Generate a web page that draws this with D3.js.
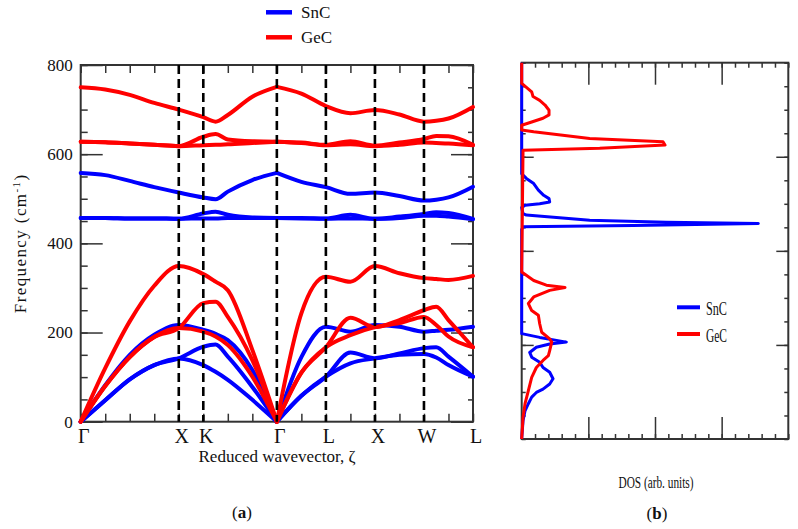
<!DOCTYPE html>
<html><head><meta charset="utf-8">
<script src="https://cdn.jsdelivr.net/npm/d3@7"></script>
<style>
body{margin:0;background:#fff}
svg{display:block;background:#fff}
text{font-family:"Liberation Serif","DejaVu Serif",serif;fill:#111}
</style>
</head><body>
<svg id="c" width="798" height="529"></svg>
<script>
// ---------- Data ----------
const kLabels = ["Γ","X","K","Γ","L","X","W","L"];
const kPos    = [0, 0.25, 0.3125, 0.5, 0.625, 0.75, 0.875, 1];
const xTickPos = [0,0.0625,0.125,0.1875,0.25,0.3125,0.375,0.4375,0.5,0.5625,0.625,0.6875,0.75,0.8125,0.875,0.9375,1];
// sample positions along the k-path (reduced units)
const q = [0,0.0625,0.125,0.1875,0.25,0.3125,0.34375,0.375,0.4375,0.5,0.5625,0.625,0.6875,0.75,0.8125,0.875,0.90625,0.9375,1];

// SnC phonon branches (cm^-1)
const snc1 = [0,48,95,127,142,127,112,94,49,0,58,101,131,142,150,152,144,127,101];
const snc2 = [0,48,95,127,142,168,173,146,78,0,58,101,155,142,153,165,167,146,101];
const snc3 = [0,82,150,195,217,206,197,183,116,0,145,213,202,217,213,202,204,206,213];
const snc4 = [457,457,456,456,455,456,456,457,457,457,456,455,456,455,457,462,462,460,454];
const snc5 = [457,457,456,456,455,467,471,464,458,457,457,456,464,455,460,466,470,468,455];
const snc6 = [558,553,540,526,514,503,499,516,542,558,538,526,511,514,506,496,498,503,527];

// GeC phonon branches (cm^-1)
const gec1 = [0,80,145,190,210,202,191,172,101,0,110,167,194,212,221,235,217,191,167];
const gec2 = [0,80,145,190,210,266,269,235,138,0,110,167,233,212,228,250,258,228,167];
const gec3 = [0,120,225,305,349,331,314,295,161,0,243,325,314,349,333,322,320,318,327];
const gec4 = [628,627,624,621,618,620,621,622,625,628,625,620,622,618,621,626,625,624,620];
const gec5 = [628,627,624,621,618,639,645,633,629,628,626,621,629,619,626,634,641,640,621];
const gec6 = [750,745,733,715,700,683,673,688,729,751,736,708,692,699,689,673,675,680,706];

// Density of states (frequency cm^-1, DOS arb. units)
const sncDosFreq = [800,674,564,554,543,529,518,511,504,500,497,492,479,476,465,461,458,454,451,445,224,216,206,202,195,184,174,163,152,142,128,117,106,99,89,75,60,39,0];
const sncDosVal  = [0,0,0,0.07,0.18,0.25,0.33,0.41,0.42,0.27,0.05,0,0.02,0.07,1.02,2.17,3.55,1.67,0.02,0,0,0.27,0.67,0.42,0.22,0.12,0.15,0.27,0.32,0.42,0.47,0.42,0.32,0.22,0.15,0.10,0.05,0.02,0];
const gecDosFreq = [800,756,738,728,720,710,699,689,682,674,667,657,653,639,632,625,618,614,355,337,327,322,316,302,288,273,263,245,227,213,206,188,177,167,152,131,103,75,46,0];
const gecDosVal  = [0,0,0.15,0.17,0.27,0.35,0.41,0.41,0.32,0.15,0,0,0.18,1.02,2.12,2.15,1.17,0.02,0,0.18,0.37,0.65,0.42,0.18,0.10,0.15,0.25,0.27,0.30,0.42,0.45,0.42,0.40,0.32,0.22,0.15,0.10,0.05,0.02,0];

const seriesNames = ["SnC","GeC"];
const seriesColors = ["#0000ff","#ff0000"];
const yTicksMajor = [0,200,400,600,800];

// ---------- Drawing ----------
const svg = d3.select("#c");
const A = {l:80.7, r:473, t:65, b:421.7};
const B = {l:521.7, r:788.3, t:62.7, b:439};

const xA = d3.scaleLinear().domain([0,1]).range([A.l, A.r]);
const yA = d3.scaleLinear().domain([0,800]).range([A.b, A.t]);
const xB = d3.scaleLinear().domain([0,4]).range([B.l, B.r]);
const yB = d3.scaleLinear().domain([0,800]).range([B.b, B.t]);

const axisColor = "#333";
function styleAxis(g){ g.select(".domain").remove(); g.selectAll("line").attr("stroke",axisColor).attr("stroke-width",1.5); }

// Panel a frame
svg.append("rect").attr("x",A.l).attr("y",A.t).attr("width",A.r-A.l).attr("height",A.b-A.t)
  .attr("fill","none").attr("stroke",axisColor).attr("stroke-width",2);

// y axes panel a
const yMinor = d3.range(0,801,50);
svg.append("g").attr("transform",`translate(${A.l},0)`)
  .call(d3.axisLeft(yA).tickValues(yMinor).tickSize(-7).tickFormat("")).call(styleAxis);
svg.append("g").attr("transform",`translate(${A.l},0)`)
  .call(d3.axisLeft(yA).tickValues(yTicksMajor).tickSize(-22).tickPadding(8).tickFormat(d3.format("d")))
  .call(styleAxis)
  .call(g=>g.selectAll("text").attr("font-size",17).attr("fill","#111"));
svg.append("g").attr("transform",`translate(${A.r},0)`)
  .call(d3.axisRight(yA).tickValues(yMinor).tickSize(-5).tickFormat("")).call(styleAxis);
svg.append("g").attr("transform",`translate(${A.r},0)`)
  .call(d3.axisRight(yA).tickValues(yTicksMajor).tickSize(-22).tickFormat("")).call(styleAxis);
// x ticks panel a
svg.append("g").attr("transform",`translate(0,${A.b})`)
  .call(d3.axisBottom(xA).tickValues(xTickPos).tickSize(-8).tickFormat("")).call(styleAxis);
svg.append("g").attr("transform",`translate(0,${A.t})`)
  .call(d3.axisTop(xA).tickValues(xTickPos).tickSize(-8).tickFormat("")).call(styleAxis);

// k-point labels
svg.append("g").selectAll("text").data(kLabels).join("text")
  .attr("x",(d,i)=>xA(kPos[i])+3).attr("y",443).attr("text-anchor","middle")
  .attr("font-size",20).text(d=>d);

// bands
const bandLine = d3.line().x(d=>xA(d[0])).y(d=>yA(d[1])).curve(d3.curveMonotoneX);
const bandSets = [[snc1,snc2,snc3,snc4,snc5,snc6],[gec1,gec2,gec3,gec4,gec5,gec6]];
const gammaIdx = q.indexOf(0.5);
const gB = svg.append("g");
bandSets.forEach((set,si)=>{
  set.forEach(vals=>{
    const pts = q.map((u,i)=>[u,vals[i]]);
    [pts.slice(0,gammaIdx+1), pts.slice(gammaIdx)].forEach(seg=>{
      gB.append("path").attr("d",bandLine(seg)).attr("fill","none")
        .attr("stroke",seriesColors[si]).attr("stroke-width",4)
        .attr("stroke-linecap","round").attr("stroke-linejoin","round");
    });
  });
});

// dashed high-symmetry lines
svg.append("g").selectAll("line").data(kPos.slice(1,7)).join("line")
  .attr("x1",d=>xA(d)).attr("x2",d=>xA(d)).attr("y1",A.t).attr("y2",A.b)
  .attr("stroke","#000").attr("stroke-width",2.6).attr("stroke-dasharray","9,5");

// axis titles panel a
svg.append("text").attr("transform",`translate(26,${(A.t+A.b)/2}) rotate(-90)`)
  .attr("text-anchor","middle").attr("font-size",17).attr("letter-spacing",1.4)
  .call(t=>{
    t.append("tspan").text("Frequency (cm");
    t.append("tspan").attr("dy",-6).attr("font-size",11).text("-1");
    t.append("tspan").attr("dy",6).text(")");
  });
svg.append("text").attr("x",277).attr("y",462).attr("text-anchor","middle").attr("font-size",17)
  .text("Reduced wavevector, ζ");
svg.append("text").attr("x",242).attr("y",518).attr("text-anchor","middle").attr("font-size",17)
  .call(t=>{ t.append("tspan").text("("); t.append("tspan").attr("font-weight","bold").text("a"); t.append("tspan").text(")"); });

// top legend
seriesNames.forEach((n,i)=>{
  const y = 12.3 + i*25;
  svg.append("line").attr("x1",266).attr("x2",292).attr("y1",y).attr("y2",y)
    .attr("stroke",seriesColors[i]).attr("stroke-width",4.5);
  svg.append("text").attr("x",301).attr("y",y+6).attr("font-size",17).text(n);
});

// ---------- Panel b ----------
svg.append("rect").attr("x",B.l).attr("y",B.t).attr("width",B.r-B.l).attr("height",B.b-B.t)
  .attr("fill","none").attr("stroke",axisColor).attr("stroke-width",2);
const xBMinor = d3.range(0,4.001,0.2);
const xBMajor = [1,2,3];
svg.append("g").attr("transform",`translate(0,${B.b})`)
  .call(d3.axisBottom(xB).tickValues(xBMinor).tickSize(-5).tickFormat("")).call(styleAxis);
svg.append("g").attr("transform",`translate(0,${B.b})`)
  .call(d3.axisBottom(xB).tickValues(xBMajor).tickSize(-22).tickFormat("")).call(styleAxis);
svg.append("g").attr("transform",`translate(0,${B.t})`)
  .call(d3.axisTop(xB).tickValues(xBMinor).tickSize(-5).tickFormat("")).call(styleAxis);
svg.append("g").attr("transform",`translate(0,${B.t})`)
  .call(d3.axisTop(xB).tickValues(xBMajor).tickSize(-22).tickFormat("")).call(styleAxis);
svg.append("g").attr("transform",`translate(${B.l},0)`)
  .call(d3.axisLeft(yB).tickValues(yMinor).tickSize(-4).tickFormat("")).call(styleAxis);
svg.append("g").attr("transform",`translate(${B.l},0)`)
  .call(d3.axisLeft(yB).tickValues([200,400,600]).tickSize(-12).tickFormat("")).call(styleAxis);
svg.append("g").attr("transform",`translate(${B.r},0)`)
  .call(d3.axisRight(yB).tickValues(yMinor).tickSize(-4).tickFormat("")).call(styleAxis);
svg.append("g").attr("transform",`translate(${B.r},0)`)
  .call(d3.axisRight(yB).tickValues([200,400,600]).tickSize(-12).tickFormat("")).call(styleAxis);

const dosLine = d3.line().x(d=>xB(d[0])).y(d=>yB(d[1]));
[[sncDosVal,sncDosFreq],[gecDosVal,gecDosFreq]].forEach((s,i)=>{
  const pts = s[0].map((v,j)=>[v,s[1][j]]);
  svg.append("path").attr("d",dosLine(pts)).attr("fill","none")
    .attr("stroke",seriesColors[i]).attr("stroke-width",3).attr("stroke-linejoin","round");
});

// legend panel b
seriesNames.forEach((n,i)=>{
  const y = 307.3 + i*26.7;
  svg.append("line").attr("x1",677).attr("x2",700).attr("y1",y).attr("y2",y)
    .attr("stroke",seriesColors[i]).attr("stroke-width",4);
  svg.append("text").attr("x",706).attr("y",y+7.5).attr("font-size",18)
    .attr("textLength",21).attr("lengthAdjust","spacingAndGlyphs").text(n);
});
svg.append("text").attr("x",656).attr("y",488).attr("text-anchor","middle").attr("font-size",16)
  .attr("textLength",75).attr("lengthAdjust","spacingAndGlyphs").text("DOS (arb. units)");
svg.append("text").attr("x",657).attr("y",519).attr("text-anchor","middle").attr("font-size",17)
  .call(t=>{ t.append("tspan").text("("); t.append("tspan").attr("font-weight","bold").text("b"); t.append("tspan").text(")"); });
</script>
</body></html>
